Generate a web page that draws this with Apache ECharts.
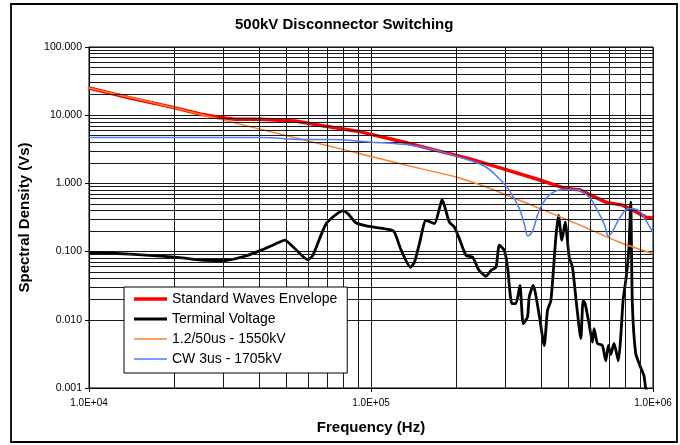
<!DOCTYPE html>
<html>
<head>
<meta charset="utf-8">
<script src="https://cdn.jsdelivr.net/npm/echarts@6/dist/echarts.min.js"></script>
<style>
html,body{margin:0;padding:0;background:#fff;}
#chart{width:680px;height:445px;}
</style>
</head>
<body>
<div id="chart"></div>
<script>
// ---- Data ----
const seriesNames = ['Standard Waves Envelope', 'Terminal Voltage', '1.2/50us - 1550kV', 'CW 3us - 1705kV'];

const envFreq = [1e4, 1.401e4, 2e4, 2.5e4, 2.849e4, 3.282e4, 4.063e4, 5.391e4, 6.9e4, 9.18e4, 1.303e5, 1.734e5, 2.232e5, 2.928e5, 3.844e5, 4.909e5, 5.47e5, 6.8e5, 7.787e5, 8.447e5, 9.423e5, 1e6];
const envVal  = [25, 17.9, 12.9, 10.3, 9.4, 8.7, 8.7, 8.2, 6.9, 5.7, 4.05, 3.0, 2.31, 1.65, 1.17, 0.84, 0.81, 0.53, 0.48, 0.41, 0.32, 0.31];

const tvFreq = [1.0e4, 1.396e4, 2.016e4, 2.506e4, 3.03e4, 3.566e4, 4.087e4, 4.745e4, 4.94e4, 5.287e4, 5.973e4, 6.223e4, 6.94e4, 7.948e4, 8.278e4, 8.862e4, 9.88e4, 1.163e5, 1.211e5, 1.279e5, 1.38e5, 1.426e5, 1.485e5, 1.568e5, 1.678e5, 1.748e5, 1.786e5, 1.82e5, 1.896e5, 1.975e5, 2.057e5, 2.173e5, 2.293e5, 2.407e5, 2.557e5, 2.664e5, 2.775e5, 2.851e5, 2.97e5, 3.05e5, 3.16e5, 3.266e5, 3.374e5, 3.466e5, 3.589e5, 3.64e5, 3.76e5, 3.95e5, 4.114e5, 4.226e5, 4.345e5, 4.525e5, 4.622e5, 4.752e5, 4.882e5, 5.044e5, 5.181e5, 5.353e5, 5.546e5, 5.652e5, 5.745e5, 5.935e5, 6.097e5, 6.183e5, 6.35e5, 6.614e5, 6.8e5, 6.946e5, 7.083e5, 7.275e5, 7.536e5, 7.685e5, 7.83e5, 8.005e5, 8.11e5, 8.222e5, 8.337e5, 8.447e5, 8.684e5, 9.045e5, 9.292e5, 9.423e5, 9.68e5];
const tvVal  = [0.097, 0.092, 0.083, 0.075, 0.074, 0.0855, 0.105, 0.138, 0.147, 0.118, 0.076, 0.088, 0.257, 0.395, 0.36, 0.263, 0.234, 0.21, 0.193, 0.105, 0.059, 0.07, 0.131, 0.288, 0.257, 0.427, 0.578, 0.478, 0.27, 0.23, 0.155, 0.088, 0.083, 0.0545, 0.0435, 0.053, 0.059, 0.124, 0.105, 0.059, 0.0173, 0.0173, 0.032, 0.0088, 0.011, 0.0216, 0.032, 0.0116, 0.0042, 0.0138, 0.0193, 0.164, 0.34, 0.147, 0.27, 0.083, 0.059, 0.0173, 0.0053, 0.0193, 0.0173, 0.0087, 0.0047, 0.0074, 0.0045, 0.0042, 0.0025, 0.0042, 0.0031, 0.0045, 0.0025, 0.0056, 0.019, 0.0375, 0.06, 0.12, 0.53, 0.0173, 0.0032, 0.002, 0.0015, 0.001, 0.0008];

const liFreq = [1e4, 2e4, 4e4, 8e4, 1e5, 1.485e5, 2e5, 2.56e5, 3.36e5, 4.4e5, 5.78e5, 7.58e5, 1e6];
const liVal  = [25, 12.9, 6.3, 3.13, 2.48, 1.66, 1.24, 0.885, 0.565, 0.36, 0.225, 0.138, 0.093];

const cwFreq = [1e4, 4.063e4, 5.768e4, 7.153e4, 9.85e4, 1.403e5, 1.734e5, 2.232e5, 2.557e5, 2.851e5, 3.093e5, 3.355e5, 3.5e5, 3.6e5, 3.739e5, 3.95e5, 4.284e5, 4.775e5, 5.327e5, 5.935e5, 6.44e5, 6.75e5, 6.95e5, 7.2e5, 7.577e5, 8.222e5, 8.92e5, 9.423e5, 1e6];
const cwVal  = [4.7, 4.7, 4.4, 4.4, 4.05, 3.6, 3.0, 2.18, 1.74, 1.17, 0.79, 0.43, 0.25, 0.17, 0.2, 0.40, 0.67, 0.81, 0.81, 0.63, 0.36, 0.24, 0.17, 0.2, 0.30, 0.43, 0.40, 0.29, 0.19];

// tick labels and grid positions
const xTickLabels = ['1.0E+04', '1.0E+05', '1.0E+06'];
const yTickLabels = ['0.001', '0.010', '0.100', '1.000', '10.000', '100.000'];
const xMinorGrid = [2e4, 3e4, 4e4, 5e4, 6e4, 7e4, 8e4, 9e4, 2e5, 3e5, 4e5, 5e5, 6e5, 7e5, 8e5, 9e5];
const yMinorGrid = [0.002, 0.003, 0.004, 0.005, 0.006, 0.007, 0.008, 0.009,
                    0.02, 0.03, 0.04, 0.05, 0.06, 0.07, 0.08, 0.09,
                    0.2, 0.3, 0.4, 0.5, 0.6, 0.7, 0.8, 0.9,
                    2, 3, 4, 5, 6, 7, 8, 9,
                    20, 30, 40, 50, 60, 70, 80, 90];

const zip = (a, b) => a.map((v, i) => [v, b[i]]);
const FONT = 'Liberation Sans, Arial, sans-serif';
const GRIDC = '#1a1a1a';
const COLORS = ['#ff0000', '#000000', '#ff7f27', '#4a7dff'];
const WIDTHS = [3.5, 2.8, 1.5, 1.5];

const chart = echarts.init(document.getElementById('chart'), null, {renderer: 'canvas'});
chart.setOption({
  animation: false,
  backgroundColor: '#fff',
  title: {
    text: '500kV Disconnector Switching',
    left: 235, top: 17, padding: 0,
    textStyle: {fontFamily: FONT, fontSize: 15, fontWeight: 'bold', color: '#000'}
  },
  graphic: [{
    type: 'rect', silent: true, z: 0,
    shape: {x: 11, y: 4, width: 666, height: 438},
    style: {fill: 'none', stroke: '#000', lineWidth: 1.8}
  }],
  grid: {left: 89, right: 27, top: 47, bottom: 57, show: true, borderColor: '#000', borderWidth: 1, backgroundColor: 'transparent'},
  legend: {
    orient: 'vertical', left: 124, top: 287, z: 20, zlevel: 1,
    padding: [5, 10, 7, 10], itemGap: 6, itemWidth: 33, itemHeight: 14,
    backgroundColor: '#fff', borderColor: '#000', borderWidth: 1,
    textStyle: {fontFamily: FONT, fontSize: 14, color: '#000'},
    data: seriesNames.map((n, i) => ({
      name: n,
      icon: 'path://M0 0H33V' + WIDTHS[i] + 'H0Z',
      itemStyle: {color: COLORS[i]}
    }))
  },
  xAxis: {
    type: 'log', logBase: 10, min: 1e4, max: 1e6, splitNumber: 2,
    axisLine: {show: true, onZero: false, lineStyle: {color: '#000', width: 1}},
    axisTick: {show: true, length: 4, lineStyle: {color: '#000'}},
    axisLabel: {
      fontFamily: FONT, fontSize: 10, color: '#000', margin: 10,
      formatter: v => xTickLabels[Math.round(Math.log10(v)) - 4] || ''
    },
    splitLine: {show: true, lineStyle: {color: GRIDC, width: 1}},
    name: 'Frequency (Hz)', nameLocation: 'middle', nameGap: 32,
    nameTextStyle: {fontFamily: FONT, fontSize: 15, fontWeight: 'bold', color: '#000'}
  },
  yAxis: {
    type: 'log', logBase: 10, min: 0.001, max: 100, splitNumber: 5,
    axisLine: {show: true, onZero: false, lineStyle: {color: '#000', width: 1}},
    axisTick: {show: true, length: 4, lineStyle: {color: '#000'}},
    axisLabel: {
      fontFamily: FONT, fontSize: 10.5, color: '#000', margin: 7,
      formatter: v => yTickLabels[Math.round(Math.log10(v)) + 3] || ''
    },
    splitLine: {show: true, lineStyle: {color: GRIDC, width: 1}},
    name: 'Spectral Density (Vs)', nameLocation: 'middle', nameGap: 57,
    nameTextStyle: {fontFamily: FONT, fontSize: 15, fontWeight: 'bold', color: '#000'}
  },
  series: [
    {
      name: '__grid', type: 'line', data: [], symbol: 'none', silent: true, z: 1,
      markLine: {
        silent: true, symbol: ['none', 'none'], label: {show: false},
        lineStyle: {color: GRIDC, width: 1, type: 'solid'},
        emphasis: {disabled: true},
        data: xMinorGrid.map(v => ({xAxis: v})).concat(yMinorGrid.map(v => ({yAxis: v})))
      }
    },
    {
      name: seriesNames[0], type: 'line', data: zip(envFreq, envVal), symbol: 'none',
      lineStyle: {color: COLORS[0], width: WIDTHS[0]}, itemStyle: {color: COLORS[0]}, z: 2
    },
    {
      name: seriesNames[1], type: 'line', data: zip(tvFreq, tvVal), symbol: 'none', smooth: 0.2,
      lineStyle: {color: COLORS[1], width: WIDTHS[1]}, itemStyle: {color: COLORS[1]}, z: 3
    },
    {
      name: seriesNames[2], type: 'line', data: zip(liFreq, liVal), symbol: 'none', smooth: 0.3,
      lineStyle: {color: COLORS[2], width: WIDTHS[2]}, itemStyle: {color: COLORS[2]}, z: 4
    },
    {
      name: seriesNames[3], type: 'line', data: zip(cwFreq, cwVal), symbol: 'none', smooth: 0.4,
      lineStyle: {color: COLORS[3], width: WIDTHS[3]}, itemStyle: {color: COLORS[3]}, z: 5
    }
  ]
});
</script>
</body>
</html>
